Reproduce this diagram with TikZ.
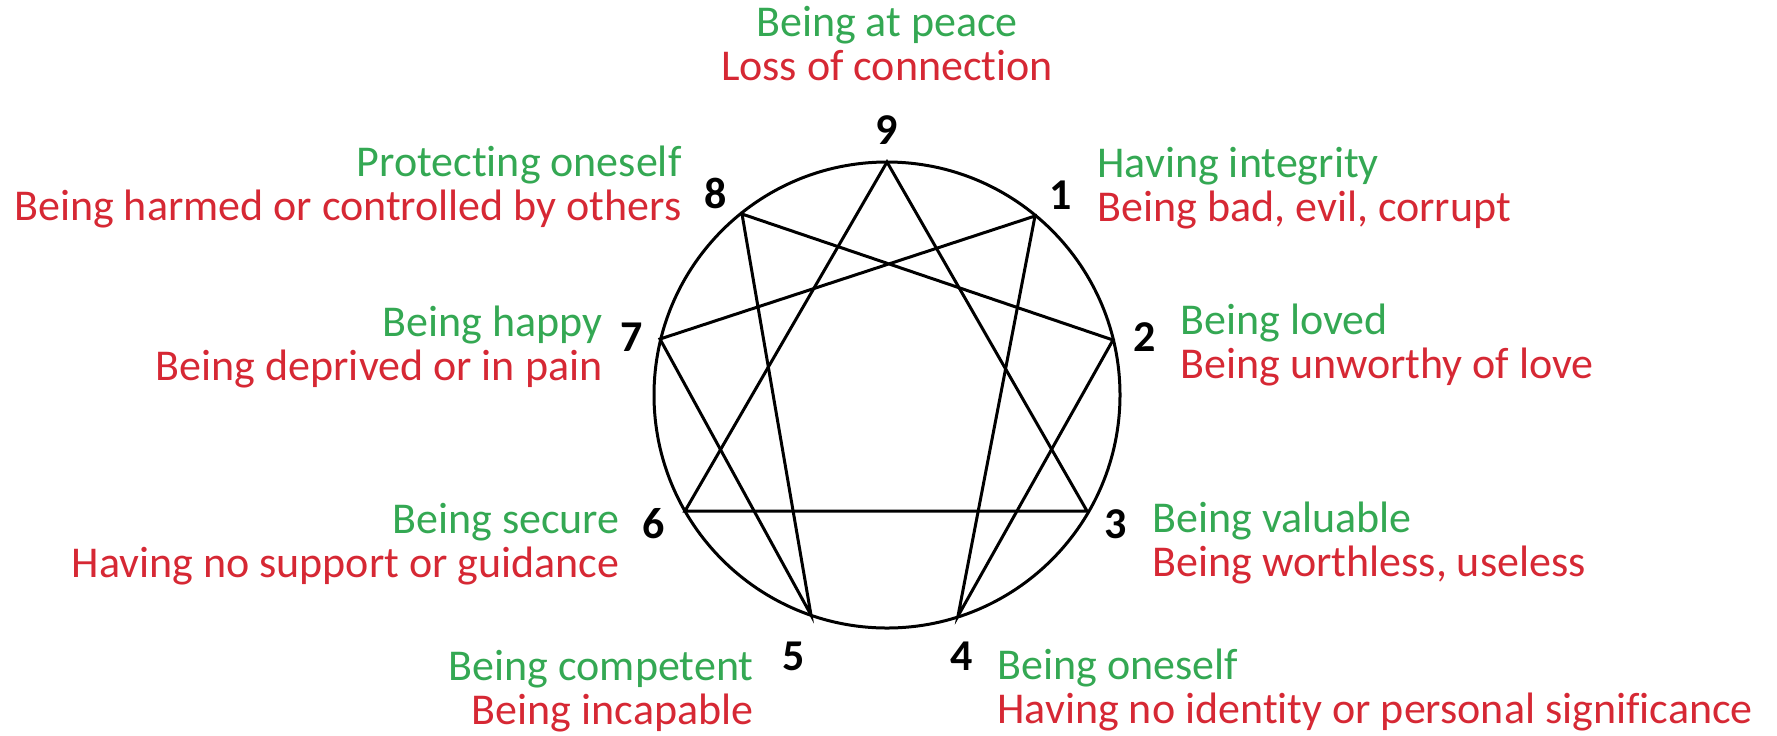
\documentclass[tikz,border=0pt]{standalone}
\usepackage{fontspec}
\setmainfont{Carlito}[RawFeature={-liga;-clig;-calt;-dlig}]
\usepackage{xcolor}
\usepackage{tikz}
\usetikzlibrary{positioning,calc}
\definecolor{desiregreen}{RGB}{52,168,83}
\definecolor{fearred}{RGB}{214,40,52}
\newcommand{\motive}[2]{\textcolor{desiregreen}{#1}\\\textcolor{fearred}{#2}}

\begin{document}
\begin{tikzpicture}[x=0.5pt, y=-0.5pt, line width=1.5pt]
  \tikzstyle{num} = [font=\fontsize{22}{22}\selectfont\bfseries, inner sep=0pt]
  \tikzstyle{lefttext} = [anchor=east, align=right, inner sep=0pt, font=\fontsize{22}{22}\selectfont]
  \tikzstyle{righttext} = [anchor=west, align=left, inner sep=0pt, font=\fontsize{22}{22}\selectfont]
  \tikzstyle{toptext} = [align=center, inner sep=0pt, font=\fontsize{22}{22}\selectfont]

  \useasboundingbox (0,0) rectangle (1777,735);

  % points on the circle
  \coordinate (c) at (887,395);
  \coordinate (p9) at (887,162);
  \coordinate (p1) at (1035,216);
  \coordinate (p2) at (1113,340);
  \coordinate (p3) at (1087,511);
  \coordinate (p4) at (958,616);
  \coordinate (p5) at (811,615);
  \coordinate (p6) at (685,511);
  \coordinate (p7) at (660,339);
  \coordinate (p8) at (742,214);

  \draw (c) circle (116.5pt);
  \draw[line join=miter] (p9) -- (p3) -- (p6) -- cycle;
  \draw[line join=miter] (p1) -- (p4) -- (p2) -- (p8) -- (p5) -- (p7) -- cycle;

  % numbers
  \node[num] (n9) at (887,130) {9};
  \node[num] (n1) at (1061,195) {1};
  \node[num] (n2) at (1145,337) {2};
  \node[num] (n3) at (1116,524) {3};
  \node[num] (n4) at (962,656) {4};
  \node[num] (n5) at (794,656) {5};
  \node[num] (n6) at (654,524) {6};
  \node[num] (n7) at (632,337) {7};
  \node[num] (n8) at (716,193) {8};

  % desires and fears
  \node[toptext] (t9) at (887,44) {\motive{Being at peace}{Loss of connection}};
  \node[righttext] (t1) at (1096,188) {\motive{Having integrity}{Being bad, evil, corrupt}};
  \node[righttext] (t2) at (1179,345) {\motive{Being loved}{Being unworthy of love}};
  \node[righttext] (t3) at (1151,543) {\motive{Being valuable}{Being worthless, useless}};
  \node[righttext] (t4) at (996,690) {\motive{Being oneself}{Having no identity or personal significance}};
  \node[lefttext] (t5) at (755,691) {\motive{Being competent}{Being incapable}};
  \node[lefttext] (t6) at (621,544) {\motive{Being secure}{Having no support or guidance}};
  \node[lefttext] (t7) at (604,347) {\motive{Being happy}{Being deprived or in pain}};
  \node[lefttext] (t8) at (683,187) {\motive{Protecting oneself}{Being harmed or controlled by others}};
\end{tikzpicture}
\end{document}
